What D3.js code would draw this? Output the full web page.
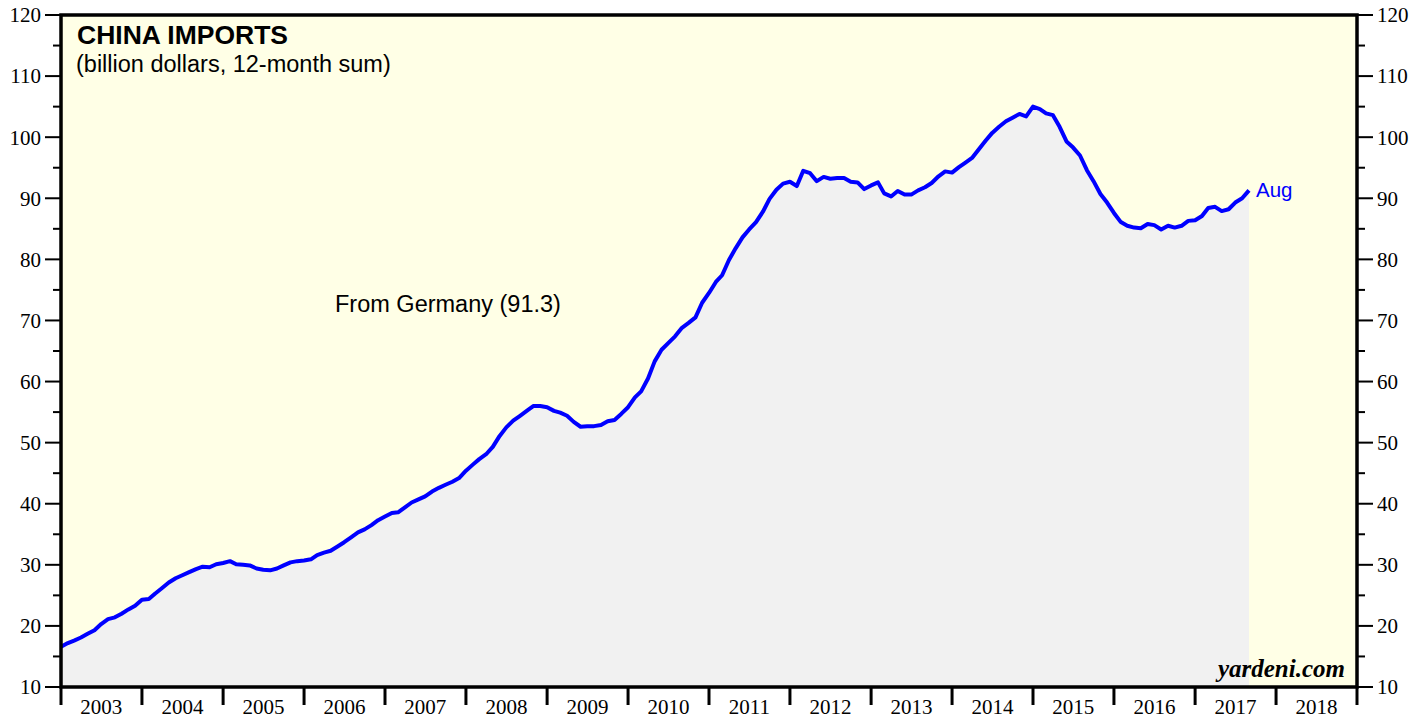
<!DOCTYPE html>
<html>
<head>
<meta charset="utf-8">
<script src="https://cdn.jsdelivr.net/npm/d3@7"></script>
<style>
  body { margin: 0; background: #fff; }
  svg { display: block; }
</style>
</head>
<body>
<div id="chart"></div>
<script>
// China imports from Germany, billion dollars, 12-month sum
// monthly, first value is Dec 2002, last is Aug 2017
var startYear = 2002, startMonth = 11;
var importsFromGermany = [
  16.6,
  17.2, 17.6, 18.1, 18.7, 19.3, 20.3, 21.1, 21.4, 22.0, 22.7, 23.3, 24.3,   // 2003
  24.4, 25.3, 26.2, 27.1, 27.8, 28.3, 28.8, 29.3, 29.7, 29.6, 30.1, 30.3,   // 2004
  30.6, 30.1, 30.0, 29.9, 29.4, 29.2, 29.1, 29.4, 29.9, 30.4, 30.6, 30.7,   // 2005
  30.9, 31.6, 32.0, 32.3, 33.0, 33.7, 34.5, 35.3, 35.8, 36.5, 37.3, 37.9,   // 2006
  38.5, 38.6, 39.4, 40.2, 40.7, 41.2, 42.0, 42.6, 43.1, 43.6, 44.2, 45.4,   // 2007
  46.4, 47.3, 48.1, 49.3, 51.1, 52.5, 53.6, 54.4, 55.2, 56.0, 56.0, 55.8,   // 2008
  55.2, 54.9, 54.4, 53.4, 52.6, 52.7, 52.7, 52.9, 53.5, 53.7, 54.7, 55.8,   // 2009
  57.4, 58.4, 60.5, 63.3, 65.2, 66.3, 67.4, 68.8, 69.6, 70.5, 72.9, 74.5,   // 2010
  76.3, 77.4, 79.9, 81.8, 83.6, 84.9, 86.1, 87.8, 89.9, 91.4, 92.4, 92.7,   // 2011
  92.0, 94.5, 94.1, 92.8, 93.5, 93.2, 93.3, 93.3, 92.7, 92.6, 91.5, 92.1,   // 2012
  92.6, 90.8, 90.3, 91.2, 90.6, 90.6, 91.3, 91.8, 92.5, 93.6, 94.4, 94.2,   // 2013
  95.1, 95.8, 96.6, 98.0, 99.4, 100.7, 101.7, 102.6, 103.2, 103.8, 103.4, 105.0, // 2014
  104.6, 103.9, 103.6, 101.7, 99.3, 98.3, 97.0, 94.6, 92.8, 90.7, 89.3, 87.6,  // 2015
  86.1, 85.5, 85.2, 85.1, 85.8, 85.6, 84.9, 85.5, 85.2, 85.5, 86.3, 86.4,   // 2016
  87.1, 88.4, 88.6, 87.9, 88.2, 89.3, 90.0, 91.3                            // 2017
];
var yearLabels = [2003, 2004, 2005, 2006, 2007, 2008, 2009, 2010, 2011, 2012,
                  2013, 2014, 2015, 2016, 2017, 2018];
var yMajor = [10, 20, 30, 40, 50, 60, 70, 80, 90, 100, 110, 120];
var yMinor = [15, 25, 35, 45, 55, 65, 75, 85, 95, 105, 115];

var W = 1427, H = 719;
var margin = { top: 15, right: 70, bottom: 32, left: 61 },
    width = W - margin.left - margin.right,
    height = H - margin.top - margin.bottom;

var svg = d3.select("#chart")
  .append("svg")
  .attr("width", W)
  .attr("height", H)
  .append("g")
  .attr("transform", "translate(" + margin.left + "," + margin.top + ")");

// each value sits at the end of its month
var data = importsFromGermany.map(function(v, i) {
  return { date: new Date(startYear, startMonth + i + 1, 1), value: v };
});

var x = d3.scaleTime()
  .domain([new Date(2003, 0, 1), new Date(2019, 0, 1)])
  .range([0, width]);
var y = d3.scaleLinear()
  .domain([10, 120])
  .range([height, 0]);

// plot background
svg.append("rect")
  .attr("width", width)
  .attr("height", height)
  .attr("fill", "#ffffe6");

// grey area under the line
svg.append("path")
  .datum(data)
  .attr("fill", "#f1f1f1")
  .attr("d", d3.area()
    .x(function(d) { return x(d.date); })
    .y0(height)
    .y1(function(d) { return y(d.value); }));

svg.append("path")
  .datum(data)
  .attr("fill", "none")
  .attr("stroke", "#0000ff")
  .attr("stroke-width", 4)
  .attr("stroke-linejoin", "round")
  .attr("d", d3.line()
    .x(function(d) { return x(d.date); })
    .y(function(d) { return y(d.value); }));

// y axes, left and right
function yAxis(g, side) {
  var dir = side === "left" ? -1 : 1;
  g.selectAll(".maj").data(yMajor).enter().append("line")
    .attr("x1", 0).attr("x2", dir * 16)
    .attr("y1", function(d) { return y(d); }).attr("y2", function(d) { return y(d); })
    .attr("stroke", "#000").attr("stroke-width", 2);
  g.selectAll(".min").data(yMinor).enter().append("line")
    .attr("x1", 0).attr("x2", dir * 8)
    .attr("y1", function(d) { return y(d); }).attr("y2", function(d) { return y(d); })
    .attr("stroke", "#000").attr("stroke-width", 2);
  g.selectAll("text").data(yMajor).enter().append("text")
    .attr("x", dir * 20)
    .attr("y", function(d) { return y(d); })
    .attr("dy", "0.35em")
    .attr("text-anchor", side === "left" ? "end" : "start")
    .style("font-family", "'Liberation Serif', 'Times New Roman', serif")
    .style("font-size", "21px")
    .text(function(d) { return d; });
}
svg.append("g").call(yAxis, "left");
svg.append("g").attr("transform", "translate(" + width + ",0)").call(yAxis, "right");

// x axis: year ticks at year boundaries, labels in the middle
var xg = svg.append("g").attr("transform", "translate(0," + height + ")");
var boundaries = yearLabels.concat([2019]);
xg.selectAll("line").data(boundaries).enter().append("line")
  .attr("x1", function(d) { return x(new Date(d, 0, 1)); })
  .attr("x2", function(d) { return x(new Date(d, 0, 1)); })
  .attr("y1", 0).attr("y2", 18)
  .attr("stroke", "#000").attr("stroke-width", 3);
xg.selectAll("text").data(yearLabels).enter().append("text")
  .attr("x", function(d) { return x(new Date(d, 6, 2)); })
  .attr("y", 27)
  .attr("text-anchor", "middle")
  .style("font-family", "'Liberation Serif', 'Times New Roman', serif")
  .style("font-size", "21px")
  .text(function(d) { return d; });

// frame
svg.append("rect")
  .attr("width", width)
  .attr("height", height)
  .attr("fill", "none")
  .attr("stroke", "#000")
  .attr("stroke-width", 3.5);

// titles and notes
svg.append("text")
  .attr("x", 16).attr("y", 29)
  .style("font-family", "'Liberation Sans', Arial, sans-serif")
  .style("font-weight", "bold")
  .style("font-size", "26.5px")
  .text("CHINA IMPORTS");
svg.append("text")
  .attr("x", 15).attr("y", 57)
  .style("font-family", "'Liberation Sans', Arial, sans-serif")
  .style("font-size", "23.5px")
  .text("(billion dollars, 12-month sum)");
svg.append("text")
  .attr("x", 274).attr("y", 297)
  .style("font-family", "'Liberation Sans', Arial, sans-serif")
  .style("font-size", "23.5px")
  .text("From Germany (91.3)");

var last = data[data.length - 1];
svg.append("text")
  .attr("x", x(last.date) + 7)
  .attr("y", y(last.value) + 7)
  .attr("fill", "#0000ff")
  .style("font-family", "'Liberation Sans', Arial, sans-serif")
  .style("font-size", "20.5px")
  .text("Aug");

svg.append("text")
  .attr("x", width - 12).attr("y", height - 10)
  .attr("text-anchor", "end")
  .style("font-family", "'Liberation Serif', 'Times New Roman', serif")
  .style("font-weight", "bold")
  .style("font-style", "italic")
  .style("font-size", "25px")
  .text("yardeni.com");
</script>
</body>
</html>
